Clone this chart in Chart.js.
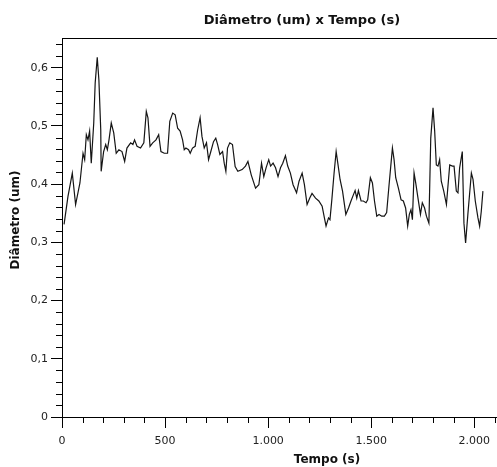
<!DOCTYPE html>
<html>
<head>
<meta charset="utf-8">
<script src="https://cdn.jsdelivr.net/npm/chart.js@4/dist/chart.umd.min.js"></script>
<style>
  html, body { margin: 0; padding: 0; background: #fff; overflow: hidden; }
  canvas { display: block; }
</style>
</head>
<body>
<canvas id="grafico" width="497" height="467"></canvas>
<script>
// Dados
const tempos = [10, 29, 50, 66, 87, 102, 110, 118, 126, 134, 142, 154, 161, 171, 179, 188, 190, 202, 212, 220,
  228, 239, 251, 263, 276, 291, 304, 315, 333, 344, 352, 364, 381, 397, 409, 417, 427, 440, 456, 469,
  480, 496, 512, 523, 537, 549, 561, 573, 585, 593, 601, 614, 622, 633, 646, 658, 670, 679, 690, 701,
  711, 722, 735, 746, 755, 766, 779, 787, 795, 803, 814, 827, 840, 853, 874, 890, 902, 918, 939, 955,
  968, 979, 990, 1003, 1012, 1024, 1036, 1048, 1060, 1071, 1084, 1095, 1108, 1121, 1138, 1150, 1165, 1176, 1189, 1202,
  1213, 1230, 1246, 1262, 1273, 1281, 1293, 1300, 1309, 1320, 1330, 1338, 1349, 1361, 1377, 1390, 1402, 1414, 1422, 1430,
  1438, 1451, 1462, 1475, 1483, 1496, 1506, 1516, 1527, 1538, 1551, 1564, 1575, 1586, 1595, 1603, 1611, 1619, 1632, 1645,
  1656, 1667, 1677, 1685, 1693, 1700, 1708, 1716, 1727, 1739, 1748, 1759, 1768, 1780, 1789, 1800, 1808, 1816, 1824, 1832,
  1840, 1852, 1865, 1881, 1894, 1902, 1913, 1921, 1929, 1942, 1950, 1958, 1969, 1986, 1994, 2005, 2018, 2026, 2034, 2042];

const diametros = [0.331, 0.379, 0.419, 0.365, 0.402, 0.453, 0.442, 0.485, 0.476, 0.491, 0.436, 0.505, 0.574, 0.618, 0.579, 0.493, 0.422, 0.456, 0.468, 0.459,
  0.476, 0.505, 0.488, 0.453, 0.459, 0.456, 0.439, 0.462, 0.471, 0.468, 0.476, 0.465, 0.462, 0.471, 0.525, 0.514, 0.465, 0.471, 0.476, 0.485,
  0.456, 0.453, 0.453, 0.508, 0.522, 0.519, 0.496, 0.491, 0.476, 0.459, 0.462, 0.459, 0.453, 0.462, 0.465, 0.493, 0.514, 0.482, 0.462, 0.471,
  0.442, 0.456, 0.473, 0.479, 0.468, 0.451, 0.456, 0.436, 0.422, 0.462, 0.471, 0.468, 0.430, 0.422, 0.425, 0.431, 0.439, 0.416, 0.393, 0.399,
  0.436, 0.413, 0.428, 0.442, 0.431, 0.436, 0.428, 0.413, 0.428, 0.436, 0.449, 0.431, 0.419, 0.399, 0.385, 0.405, 0.419, 0.399, 0.365, 0.376,
  0.384, 0.376, 0.371, 0.362, 0.342, 0.328, 0.342, 0.339, 0.373, 0.419, 0.456, 0.436, 0.408, 0.388, 0.348, 0.359, 0.371, 0.382, 0.389, 0.376,
  0.389, 0.371, 0.371, 0.368, 0.373, 0.411, 0.402, 0.371, 0.345, 0.348, 0.345, 0.345, 0.351, 0.396, 0.431, 0.462, 0.442, 0.411, 0.393, 0.373,
  0.371, 0.359, 0.328, 0.348, 0.356, 0.339, 0.419, 0.402, 0.376, 0.348, 0.368, 0.359, 0.345, 0.333, 0.479, 0.531, 0.491, 0.433, 0.431, 0.442,
  0.405, 0.388, 0.365, 0.433, 0.431, 0.431, 0.388, 0.385, 0.428, 0.456, 0.333, 0.299, 0.348, 0.419, 0.408, 0.371, 0.342, 0.328, 0.353, 0.388];

const yTicks = [0, 0.1, 0.2, 0.3, 0.4, 0.5, 0.6];
const xTicks = [0, 500, 1000, 1500, 2000];

const titulo = 'Diâmetro (um) x Tempo (s)';
const tituloX = 'Tempo (s)';
const tituloY = 'Diâmetro (um)';

const fonte = '"DejaVu Sans", Verdana, sans-serif';

// Formatação pt-BR
function formatarY(v) {
  return v === 0 ? '0' : v.toFixed(1).replace('.', ',');
}
function formatarX(v) {
  return v.toLocaleString('pt-BR');
}

// Ticks menores, borda superior e títulos
const extras = {
  id: 'extras',
  afterDraw(chart) {
    const ctx = chart.ctx;
    const a = chart.chartArea;
    const x = chart.scales.x;
    const y = chart.scales.y;
    ctx.save();
    ctx.strokeStyle = '#000';
    ctx.lineWidth = 1;
    ctx.beginPath();
    ctx.moveTo(a.left, a.top + 0.5);
    ctx.lineTo(a.right, a.top + 0.5);
    for (let i = 0; i <= 32; i++) {
      if (i % 5 === 0) continue;
      const py = Math.round(y.getPixelForValue(i * 0.02)) + 0.5;
      ctx.moveTo(a.left - 6, py);
      ctx.lineTo(a.left, py);
    }
    for (let i = 0; i <= 21; i++) {
      if (i % 5 === 0) continue;
      const px = Math.round(x.getPixelForValue(i * 100)) + 0.5;
      ctx.moveTo(px, a.bottom);
      ctx.lineTo(px, a.bottom + 6);
    }
    ctx.stroke();

    ctx.fillStyle = '#111';
    ctx.textAlign = 'center';
    ctx.textBaseline = 'middle';
    ctx.font = 'bold 13px ' + fonte;
    ctx.fillText(titulo, 302, 21);
    ctx.font = 'bold 12px ' + fonte;
    ctx.fillText(tituloX, 327, 460);
    ctx.translate(16, 220);
    ctx.rotate(-Math.PI / 2);
    ctx.fillText(tituloY, 0, 0);
    ctx.restore();
  }
};

document.addEventListener('DOMContentLoaded', function() {
  const ctx = document.getElementById('grafico').getContext('2d');
  const pontos = tempos.map((t, i) => ({ x: t, y: diametros[i] }));

  new Chart(ctx, {
    type: 'line',
    data: {
      datasets: [{
        label: tituloY,
        data: pontos,
        borderColor: '#151515',
        borderWidth: 1.2,
        pointRadius: 0,
        tension: 0,
        fill: false
      }]
    },
    options: {
      responsive: false,
      animation: false,
      layout: { padding: { top: 38, right: 0, left: 0, bottom: 0 } },
      plugins: {
        legend: { display: false },
        tooltip: { enabled: false }
      },
      scales: {
        x: {
          type: 'linear',
          min: 0,
          max: 2110,
          afterFit: function(scale) { scale.height = 50; },
          afterBuildTicks: function(scale) { scale.ticks = xTicks.map(v => ({ value: v })); },
          grid: { drawOnChartArea: false, drawTicks: true, tickLength: 11, tickColor: '#000' },
          border: { display: true, color: '#000', width: 1 },
          ticks: {
            color: '#222',
            font: { family: fonte, size: 11 },
            padding: 7,
            maxRotation: 0,
            callback: formatarX
          }
        },
        y: {
          type: 'linear',
          min: 0,
          max: 0.651,
          afterFit: function(scale) { scale.width = 62; },
          afterBuildTicks: function(scale) { scale.ticks = yTicks.map(v => ({ value: v })); },
          grid: { drawOnChartArea: false, drawTicks: true, tickLength: 11, tickColor: '#000' },
          border: { display: true, color: '#000', width: 1 },
          ticks: {
            color: '#222',
            font: { family: fonte, size: 11 },
            padding: 3,
            callback: formatarY
          }
        }
      }
    },
    plugins: [extras]
  });
});
</script>
</body>
</html>
